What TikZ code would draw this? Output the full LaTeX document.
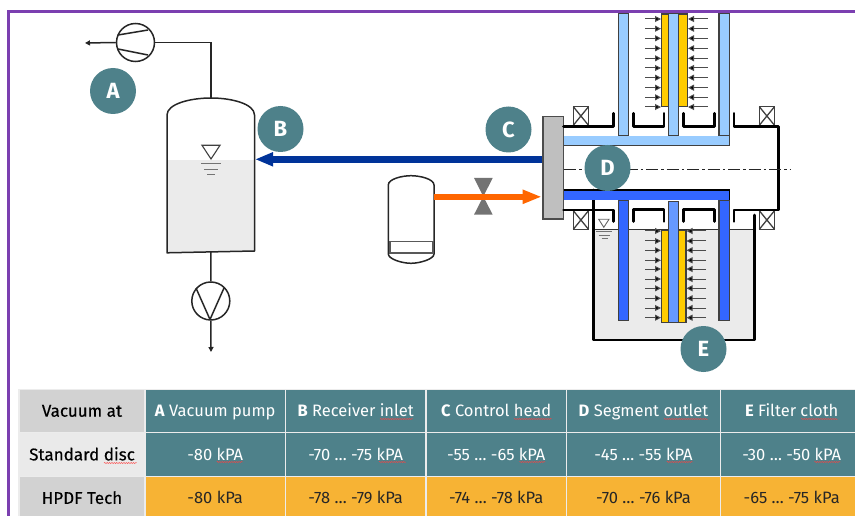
\documentclass[tikz,border=0pt]{standalone}
\usepackage{fontspec}
\setmainfont{Fira Sans}
\usetikzlibrary{arrows.meta,decorations.pathmorphing}
\definecolor{teal}{HTML}{4E818A}
\definecolor{framec}{HTML}{7B3FB0}
\definecolor{liquid}{HTML}{EBEBEB}
\definecolor{lightblue}{HTML}{99CCFF}
\definecolor{darkblue}{HTML}{3366FF}
\definecolor{midblue}{HTML}{6699FF}
\definecolor{pipe}{HTML}{003399}
\definecolor{hot}{HTML}{FF6600}
\definecolor{cloth}{HTML}{FFCC00}
\definecolor{headgrey}{HTML}{D2D2D2}
\definecolor{rowgrey}{HTML}{EAEAEA}
\definecolor{amber}{HTML}{F7B334}
\definecolor{lineink}{HTML}{262626}
\newfontfamily\heavyfont[FakeBold=0.35]{Fira Sans}
\tikzset{
  x=1pt,y=-1pt,
  badge/.style={circle,fill=teal,minimum size=46pt,inner sep=0pt,text=white,font=\fontsize{22}{22}\selectfont\bfseries},
  thin line/.style={draw=lineink,line width=1.5pt},
  wall/.style={draw=black,line width=2.6pt,line cap=round,line join=round},
  pumpcircle/.style={circle,draw=lineink,line width=1.5pt,minimum size=38pt,inner sep=0pt},
  level/.style={draw=gray!90!black,line width=1pt},
  part/.style={draw=black!75,line width=1.3pt},
  flow/.style={draw=black!70,line width=1pt,-{Triangle[length=6pt,width=6pt,fill=black]}},
  cell/.style={rectangle,draw=white!85!gray,line width=1.3pt,inner sep=0pt,text height=13pt,text depth=1.6pt,font=\fontsize{16.5}{18}\selectfont},
  tealcell/.style={cell,fill=teal,text=white},
  ambercell/.style={cell,fill=amber,text=black!85},
  greycell/.style={cell,fill=headgrey,text=black,font=\fontsize{17}{18}\heavyfont},
  spell/.style={draw=red!75!white,line width=0.45pt,decorate,decoration={snake,amplitude=0.5pt,segment length=2.4pt}},
}
\begin{document}
\begin{tikzpicture}
\useasboundingbox (0,0) rectangle (855,516);
% frame
\draw[framec,line width=2.2pt] (8.5,516) -- (8.5,11.5) -- (855,11.5);

% --- receiver and vacuum pump ---
\fill[liquid] (167,160) rectangle (254.5,252);
\coordinate (tanktop) at (211,98);
\coordinate (tankbottom) at (211,252);
\draw[thin line,line join=round] (167,252.8) -- (167,115) .. controls (167,104) and (190,98) .. (tanktop)
   .. controls (232,98) and (254.5,104) .. (254.5,115) -- (254.5,251) -- cycle;
\node[pumpcircle] (vacpump) at (135.5,42.5) {};
\node[pumpcircle] (liqpump) at (210.8,301) {};
\coordinate (vacout) at (85,43);
\coordinate (liqout) at (211,352);
\draw[thin line] (tanktop) |- (vacpump.east);
\draw[thin line,-{Triangle[length=5pt,width=5pt,fill=black]}] (vacpump.west) -- (vacout);
\draw[thin line] (tankbottom) -- (liqpump.north);
\draw[thin line,-{Triangle[length=5pt,width=5pt,fill=black]}] (liqpump.south) -- (liqout);
\draw[thin line] (118,35) -- (148,30) (118,49) -- (148,55);
\draw[thin line,line join=round] (196,288) -- (210,319.5) -- (224,288);
% level mark receiver
\draw[draw=black!75,line width=1.1pt,fill=white] (202,145.3) -- (220,145.3) -- (211,159) -- cycle;
\draw[level] (201,164) -- (221,164) (204,169.5) -- (218,169.5) (207,175) -- (215,175);

% --- small vessel ---
\draw[thin line] (388.3,185) .. controls (388.3,179) and (402,175.7) .. (411,175.7)
   .. controls (420,175.7) and (434,179) .. (434,185) -- (434,254)
   .. controls (434,259) and (420,263.3) .. (411,263.3)
   .. controls (402,263.3) and (388.3,259) .. (388.3,254) -- cycle;
\draw[draw=black!65,line width=1.3pt] (390,241.7) rectangle (433,253);
% valve
\fill[black!55] (474,178) -- (492.7,178) -- (483.3,196.5) -- cycle;
\fill[black!55] (474,214.7) -- (492.7,214.7) -- (483.3,196.5) -- cycle;

% --- control head pipes ---
\node[draw=black!70,fill=black!25,line width=1.2pt,minimum width=20.5pt,minimum height=102.5pt,inner sep=0pt] (head) at (553.2,167.7) {};
\coordinate (inlet) at (255,159.3);
\coordinate (hotstart) at (434,196.8);
\coordinate (hotend) at (541.7,196.8);
\draw[pipe,line width=6.5pt,-{Triangle[length=18pt,width=13pt]}] (head.west |- inlet) -- (inlet);
\draw[hot,line width=6.5pt,-{Triangle[length=19pt,width=13pt]}] (hotstart) -- (hotend);

% --- lower tub ---
\fill[liquid] (593.3,229.5) rectangle (754.3,340);
\draw[draw=black!80,line width=1.3pt] (593.3,229.5) -- (754.3,229.5);
\draw[wall] (593.3,190) -- (593.3,340) -- (754.3,340) -- (754.3,215);

% --- bearings ---
\foreach \xa in {573.3,759.3}{
  \foreach \ya in {106.7,210.7}{
    \draw[draw=black!75,line width=1.3pt,fill=white] (\xa,\ya) rectangle +(15.2,18.6);
    \draw[draw=black!75,line width=1.3pt] (\xa,\ya) -- +(15.2,18.6) (\xa+15.2,\ya) -- +(-15.2,18.6);
  }
}

% --- drum walls ---
\draw[wall] (563.5,126.5) -- (613.3,126.5) -- (613.3,113.3);
\draw[wall] (633.3,113.3) -- (633.3,126.5) -- (664,126.5) -- (664,113.3);
\draw[wall] (683.3,113.3) -- (683.3,126.5) -- (714.7,126.5) -- (714.7,113.3);
\draw[wall] (734,113.3) -- (734,126.5) -- (778.3,126.5) -- (778.3,210) -- (734,210) -- (734,221.5);
\draw[wall] (563.5,210) -- (613.3,210) -- (613.3,221.5);
\draw[wall] (633.3,221.5) -- (633.3,209.5) -- (664,209.5) -- (664,221.5);
\draw[wall] (683.3,221.5) -- (683.3,209.5) -- (714.7,209.5) -- (714.7,221.5);

% centre line
\draw[draw=black!85,line width=1pt,dash pattern=on 12pt off 3pt on 2.5pt off 3pt] (head.east |- 0,170) -- (790.7,170);

% --- upper segment ---
\draw[part,fill=lightblue] (618.7,13.3) rectangle (628.7,136);
\draw[part,fill=lightblue] (668.7,13.3) rectangle (678.7,136);
\draw[part,fill=lightblue] (719,13.3) rectangle (729.3,136);
\draw[part,draw=none,fill=lightblue] (563.5,136) rectangle (729.3,145.7);
\draw[part] (563.5,145.7) -- (729.3,145.7) -- (729.3,136);
\draw[part,fill=cloth] (661.3,14) rectangle (668.7,106.7);
\draw[part,fill=cloth] (678.7,14) rectangle (687.7,106.7);
\foreach \ya in {19,28.7,38.3,48.3,58.3,68,77.7,87.7,97.3,107}{
  \draw[flow] (645.3,\ya) -- (661,\ya);
  \draw[flow] (707.7,\ya) -- (688,\ya);
}

% --- lower segment ---
\draw[part,fill=darkblue] (618.7,200) rectangle (628.7,320.7);
\draw[part,fill=darkblue] (719,200) rectangle (729.3,320.7);
\draw[part,draw=none,fill=darkblue] (563.5,190) rectangle (729.3,200);
\draw[draw=black,line width=1.3pt] (563.5,190) -- (729.3,190) -- (729.3,200);
\draw[part,fill=cloth] (661.5,230.7) rectangle (668.7,322.7);
\draw[part,fill=cloth] (678.7,230.7) rectangle (686,322.7);
\draw[part,fill=midblue] (668.7,201.7) rectangle (678.7,322.7);
\foreach \ya in {231,241,250.3,260.3,269,279,288.3,298.3,308,317.7}{
  \draw[flow] (645.3,\ya) -- (661,\ya);
  \draw[flow] (706,\ya) -- (686.5,\ya);
}
% level mark tub
\draw[draw=black!60,line width=0.9pt,fill=white] (598.7,219.3) -- (609,219.3) -- (603.8,227.3) -- cycle;
\draw[level] (596,231.7) -- (611.7,231.7) (598.5,235.3) -- (609.5,235.3) (601.5,239) -- (607.5,239);

% --- badges ---
\node[badge] (A) at (113,91) {A};
\node[badge] (B) at (280.5,129) {B};
\node[badge] (C) at (508.5,129.5) {C};
\node[badge] (D) at (607.5,168) {D};
\node[badge] (E) at (703.5,349) {E};

% --- table ---
\tikzset{c0/.style={minimum width=126pt},c1/.style={minimum width=140.3pt},c2/.style={minimum width=140.7pt},c3/.style={minimum width=140.3pt},c4/.style={minimum width=154.4pt},c5/.style={minimum width=142pt},
 r0/.style={minimum height=43.4pt},r1/.style={minimum height=44pt},r2/.style={minimum height=43pt}}
\node[greycell,c0,r0] (t00) at (82,411) {Vacuum at};
\node[greycell,c0,r1,fill=rowgrey] (t10) at (82,454.7) {Standard disc};
\node[greycell,c0,r2] (t20) at (82,498.2) {HPDF Tech};
\node[tealcell,c1,r0] (t01) at (215.2,411) {\textbf{A} Vacuum pump};
\node[tealcell,c2,r0] (t02) at (355.7,411) {\textbf{B} Receiver inlet};
\node[tealcell,c3,r0] (t03) at (496.2,411) {\textbf{C} Control head};
\node[tealcell,c4,r0] (t04) at (643.5,411) {\textbf{D} Segment outlet};
\node[tealcell,c5,r0] (t05) at (791.7,411) {\textbf{E} Filter cloth};
\node[tealcell,c1,r1] (t11) at (215.2,454.7) {-80 kPA};
\node[tealcell,c2,r1] (t12) at (355.7,454.7) {-70 … -75 kPA};
\node[tealcell,c3,r1] (t13) at (496.2,454.7) {-55 … -65 kPA};
\node[tealcell,c4,r1] (t14) at (643.5,454.7) {-45 … -55 kPA};
\node[tealcell,c5,r1] (t15) at (791.7,454.7) {-30 … -50 kPA};
\node[ambercell,c1,r2] (t21) at (215.2,498.2) {-80 kPa};
\node[ambercell,c2,r2] (t22) at (355.7,498.2) {-78 … -79 kPa};
\node[ambercell,c3,r2] (t23) at (496.2,498.2) {-74 … -78 kPa};
\node[ambercell,c4,r2] (t24) at (643.5,498.2) {-70 … -76 kPa};
\node[ambercell,c5,r2] (t25) at (791.7,498.2) {-65 … -75 kPa};
% spell-check marks
\draw[spell] (104,463) -- (136.7,463);
\draw[spell] (216.7,462) -- (243.3,462);
\draw[spell] (379,462) -- (406,462);
\draw[spell] (519.3,462) -- (545.7,462);
\draw[spell] (666.7,462) -- (693.3,462);
\draw[spell] (814.3,462) -- (840.7,462);
\draw[spell] (380,419) -- (412.7,419);
\draw[spell] (514,419) -- (551.7,419);
\draw[spell] (664,419) -- (708.3,419);
\draw[spell] (801,419) -- (838.3,419);
\end{tikzpicture}
\end{document}
